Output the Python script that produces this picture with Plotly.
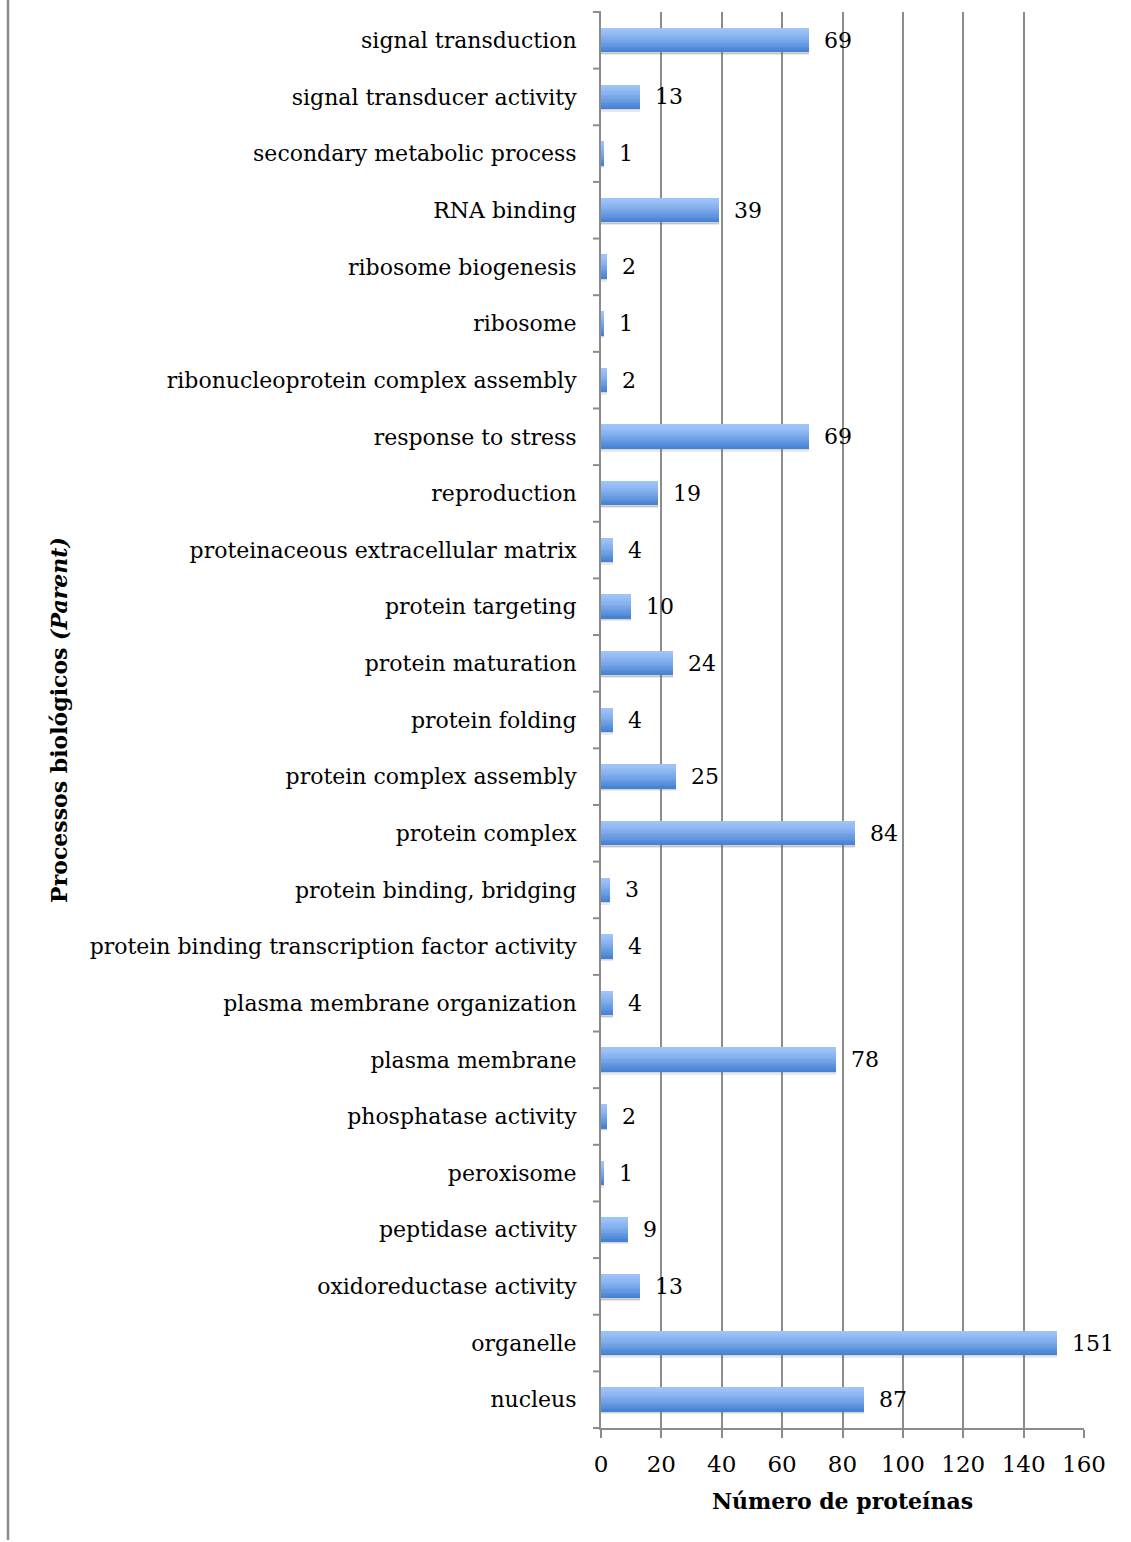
import plotly.graph_objects as go

# Categories listed from top to bottom of the chart
categories = [
    "signal transduction", "signal transducer activity", "secondary metabolic process",
    "RNA binding", "ribosome biogenesis", "ribosome", "ribonucleoprotein complex assembly",
    "response to stress", "reproduction", "proteinaceous extracellular matrix",
    "protein targeting", "protein maturation", "protein folding", "protein complex assembly",
    "protein complex", "protein binding, bridging", "protein binding transcription factor activity",
    "plasma membrane organization", "plasma membrane", "phosphatase activity", "peroxisome",
    "peptidase activity", "oxidoreductase activity", "organelle", "nucleus",
]
counts = [69, 13, 1, 39, 2, 1, 2, 69, 19, 4, 10, 24, 4, 25, 84, 3, 4, 4, 78, 2, 1, 9, 13, 151, 87]
x_ticks = [0, 20, 40, 60, 80, 100, 120, 140, 160]

FONT = "DejaVu Serif"
FS = 22
BAR_T = 0.42          # bar thickness as a fraction of the category band
N_STRIPS = 14         # horizontal strips used to render the vertical gradient

top_rgb = (0x9E, 0xC3, 0xF9)
bot_rgb = (0x47, 0x83, 0xD4)

fig = go.Figure()

# soft drop shadow under each bar
for j, a in enumerate([0.30, 0.15]):
    fig.add_trace(go.Bar(
        x=counts, y=categories, orientation="h",
        width=0.03, offset=BAR_T / 2 - 0.005 + j * 0.025,
        marker=dict(color=f"rgba(110,110,110,{a})", line=dict(width=0)),
        hoverinfo="skip", showlegend=False,
    ))

# gradient bars: light at the top, darker toward the bottom
strip = BAR_T / N_STRIPS
for i in range(N_STRIPS):
    t = i / (N_STRIPS - 1)
    t = t ** 1.3
    r, g, b = (round(a + (c - a) * t) for a, c in zip(top_rgb, bot_rgb))
    fig.add_trace(go.Bar(
        x=counts, y=categories, orientation="h",
        width=strip * 1.08, offset=-BAR_T / 2 + i * strip,
        marker=dict(color=f"rgb({r},{g},{b})", line=dict(width=0)),
        hoverinfo="skip", showlegend=False,
    ))

# value labels to the right of each bar
for cat, v in zip(categories, counts):
    fig.add_annotation(
        x=v, y=cat, text=str(v), showarrow=False,
        xanchor="left", yanchor="middle", xshift=13,
        font=dict(family=FONT, size=FS, color="black"),
    )

fig.update_layout(
    width=1131, height=1542,
    margin=dict(l=601, r=47, t=12, b=114),
    paper_bgcolor="white", plot_bgcolor="white",
    barmode="overlay", bargap=0,
    showlegend=False,
    font=dict(family=FONT, size=FS, color="black"),
)

fig.update_xaxes(
    range=[0, 160], tickvals=x_ticks, ticktext=[str(v) for v in x_ticks],
    showgrid=True, gridcolor="#8c8c8c", gridwidth=2,
    showline=True, linecolor="#8c8c8c", linewidth=2,
    ticks="outside", ticklen=8, tickwidth=2, tickcolor="#8c8c8c",
    tickfont=dict(family=FONT, size=23),
    ticklabelstandoff=6,
    zeroline=False, mirror=False,
    title=dict(text="<b>Número de proteínas</b>", standoff=18,
               font=dict(family=FONT, size=FS)),
)

fig.update_yaxes(
    categoryorder="array", categoryarray=categories, autorange="reversed",
    showgrid=False, showline=True, linecolor="#8c8c8c", linewidth=2,
    ticks="", tickfont=dict(family=FONT, size=FS),
    ticklabelstandoff=18,
    title=dict(text="<b>Processos biológicos <i>(Parent)</i></b>", standoff=16,
               font=dict(family=FONT, size=FS)),
)

# tick marks between categories on the vertical axis
for k in range(len(categories) + 1):
    fig.add_shape(
        type="line", xref="paper", yref="paper",
        x0=-8 / 483, x1=0, y0=k / len(categories), y1=k / len(categories),
        line=dict(color="#8c8c8c", width=2),
    )

# thin frame line along the left edge of the figure
fig.add_shape(
    type="line", xref="paper", yref="paper",
    x0=-593 / 483, x1=-593 / 483, y0=-112 / 1416, y1=1 + 12 / 1416,
    line=dict(color="#8c8c8c", width=2.5),
)

fig.write_html("out.html")
